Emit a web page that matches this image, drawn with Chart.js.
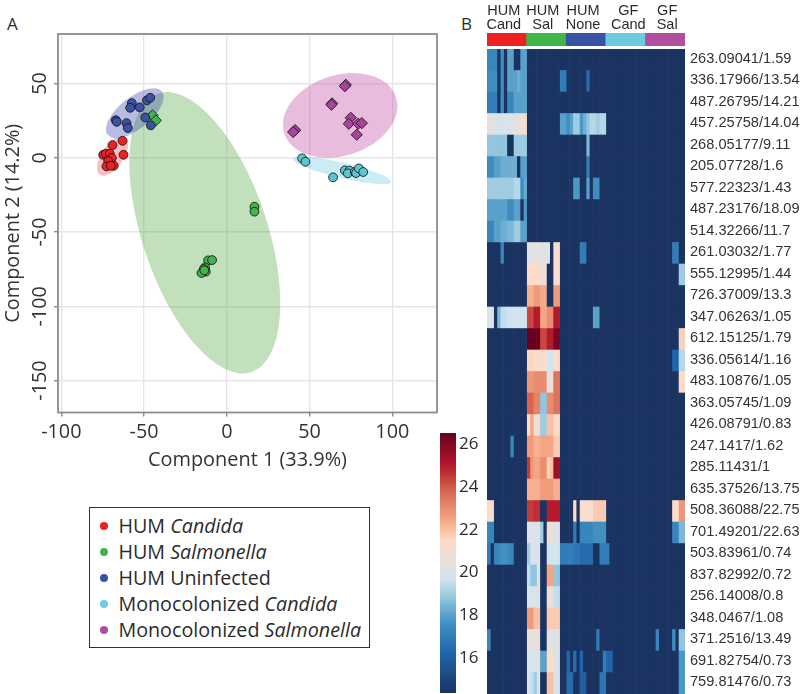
<!DOCTYPE html>
<html>
<head>
<meta charset="utf-8">
<title>PCA and heatmap</title>
<script src="https://cdn.jsdelivr.net/npm/chart.js@4/dist/chart.umd.js"></script>
<style>
  html, body { margin: 0; padding: 0; background: #fff; }
  body { position: relative; width: 800px; height: 694px; overflow: hidden; font-family: "Open Sans", sans-serif; color: #2b2b2b; }
  canvas { position: absolute; display: block; }
  .panel { position: absolute; font-size: 17px; line-height: 20px; }
  #legend { position: absolute; left: 89px; top: 507px; width: 279px; height: 134px; border: 1.5px solid #333; padding-top: 5px; box-sizing: content-box; }
  #legend div { position: relative; height: 26px; line-height: 26px; padding-left: 28.5px; font-size: 19.7px; white-space: nowrap; margin-top: 0; }
  #legend span.dot { position: absolute; left: 9.5px; top: 9px; width: 8px; height: 8px; border-radius: 50%; }
</style>
</head>
<body>
<div class="panel" style="left:7px;top:14px">A</div>
<div class="panel" style="left:461px;top:14px">B</div>
<canvas id="pcaChart" width="440" height="472" style="left:0;top:0"></canvas>
<canvas id="headerChart" width="198" height="46" style="left:487px;top:0"></canvas>
<canvas id="heatChart" width="313" height="645" style="left:487px;top:49px"></canvas>
<canvas id="scaleChart" width="47" height="260" style="left:440px;top:433px"></canvas>
<div id="legend"></div>
<script>
const pca_x_ticks = [-100, -50, 0, 50, 100]
const pca_y_ticks = [-150, -100, -50, 0, 50]

const hum_candida_x = [-69.1, -63.0, -62.4, -74.7, -73.1, -70.7, -69.5, -71.7, -72.7, -68.3, -70.1]
const hum_candida_y = [8.5, 11.4, 2.0, 2.0, 2.7, 2.7, -0.2, -2.2, -5.8, -5.4, -5.4]

const hum_uninfected_x = [-67.1, -66.5, -60.6, -59.8, -57.4, -58.4, -52.6, -48.3, -46.3, -49.3, -45.9]
const hum_uninfected_y = [25.3, 24.2, 23.3, 20.0, 36.8, 33.6, 33.9, 38.6, 40.4, 27.1, 21.8]

const hum_salmonella_x = [16.7, 16.7, -11.3, -8.9, -13.1, -13.9, -12.7, -15.3, -13.6]
const hum_salmonella_y = [-33, -36.3, -69.1, -68.9, -73.8, -74.9, -76.7, -77.6, -75.8]

const hum_salmonella_diamond_x = [-44.9, -42.9]
const hum_salmonella_diamond_y = [28.5, 25.1]

const mono_candida_x = [45.5, 47.5, 64.2, 71.3, 74.1, 73.1, 77.3, 78.1, 79.8, 82.4]
const mono_candida_y = [-0.4, -2.7, -13.2, -8.5, -8.7, -10.5, -9.6, -10.3, -7.2, -9.6]

const mono_salmonella_x = [71.9, 71.3, 63.6, 63.2, 41.3, 40.1, 74.9, 73.7, 79.4, 81.6, 78.5]
const mono_salmonella_y = [49.1, 48.2, 36.6, 35.7, 18.6, 17.3, 26.9, 22.9, 22.9, 23.3, 15.5]

// confidence ellipses: red, green, blue, cyan, purple
const ellipse_center_x = [-69, -13.3, -55.6, 69.7, 68.5]
const ellipse_center_y = [1.1, -50.5, 30, -8.5, 28.5]
const ellipse_half_x = [9.4, 45.6, 17.5, 29.7, 34.6]
const ellipse_half_y = [13.2, 94.7, 16.8, 9.3, 28.5]
const ellipse_tilt = [-0.6, 0.5, -0.65, 0.82, -0.22]
const ellipse_colors = ["rgba(238,32,36,0.3)", "rgba(70,160,50,0.33)", "rgba(70,80,180,0.38)", "rgba(109,203,224,0.36)", "rgba(190,70,160,0.36)"]

const group_colors = ["#ee2024", "#3fb54a", "#3953a4", "#6dcbe0", "#b04fa0"]
const point_colors = ["#ee2024", "#3fb54a", "#3953a4", "#5cc6d0", "#a8449a"]

const legend_names = ["HUM ", "HUM ", "HUM Uninfected", "Monocolonized ", "Monocolonized "]
const legend_species = ["Candida", "Salmonella", "", "Candida", "Salmonella"]

const header_labels = [["HUM", "Cand"], ["HUM", "Sal"], ["HUM", "None"], ["GF", "Cand"], ["GF", "Sal"]]
const header_label_columns = [5.1, 16.9, 29.1, 42.8, 54.6]

const row_labels = [
  "263.09041/1.59", "336.17966/13.54", "487.26795/14.21", "457.25758/14.04", "268.05177/9.11",
  "205.07728/1.6", "577.22323/1.43", "487.23176/18.09", "514.32266/11.7", "261.03032/1.77",
  "555.12995/1.44", "726.37009/13.3", "347.06263/1.05", "612.15125/1.79", "336.05614/1.16",
  "483.10876/1.05", "363.05745/1.09", "426.08791/0.83", "247.1417/1.62", "285.11431/1",
  "635.37526/13.75", "508.36088/22.75", "701.49201/22.63", "503.83961/0.74", "837.82992/0.72",
  "256.14008/0.8", "348.0467/1.08", "371.2516/13.49", "691.82754/0.73", "759.81476/0.73"
]

// log intensity per row, 12 samples per group, 0 = not detected
const heat_values = [
  [17.3,17.3,17.3,0,17.5,0,18,18,0,0,18,18, 0,0,0,0,0,0,0,0,0,0,0,0, 0,0,0,0,0,0,0,0,0,0,0,0, 0,0,0,0,0,0,0,0,0,0,0,0, 0,0,0,0,0,0,0,0,0,0,0,0],
  [17.5,17.5,17.5,0,17.5,0,18,18,18,18.3,18,18, 0,0,0,0,0,0,0,0,0,0,17,17, 0,0,0,0,0,0,16.5,0,0,0,0,0, 0,0,0,0,0,0,0,0,0,0,0,0, 0,0,0,0,0,0,0,0,0,0,0,0],
  [17,17,17,0,17.5,0,17.3,17.3,18,18,18,18, 0,0,0,0,0,0,0,0,0,0,0,0, 0,0,0,0,0,0,0,0,0,0,0,0, 0,0,0,0,0,0,0,0,0,0,0,0, 0,0,0,0,0,0,0,0,0,0,0,0],
  [20.5,20.5,19.8,19.8,20,20,20,20,20.5,20.5,21,21, 0,0,0,0,0,0,0,0,0,0,18,18, 17.5,18,19,19,17.8,18.3,18.8,19.3,19.3,19,19.3,19.3, 0,0,0,0,0,0,0,0,0,0,0,0, 0,0,0,0,0,0,0,0,0,0,0,0],
  [18.8,18.8,18.8,18.8,18.8,18.8,0,0,19,19,19,19, 0,0,0,0,0,0,0,0,0,0,0,0, 0,0,0,0,0,0,18.5,0,0,0,0,0, 0,0,0,0,0,0,0,0,0,0,0,0, 0,0,0,0,0,0,0,0,0,0,0,0],
  [17.5,17.5,18,18,18.3,18.3,18.3,18.3,18.3,0,18,18, 0,0,0,0,0,0,0,0,0,0,0,0, 0,0,0,0,0,0,17,0,0,0,0,0, 0,0,0,0,0,0,0,0,0,0,0,0, 0,0,0,0,0,0,0,0,0,0,0,0],
  [19,19,19,19,19,19,19,19,19.3,19.3,17.5,18.2, 0,0,0,0,0,0,0,0,0,0,0,0, 0,0,17.8,17.8,0,0,18,0,17.5,17.5,0,0, 0,0,0,0,0,0,0,0,0,0,0,0, 0,0,0,0,0,0,0,0,0,0,0,0],
  [18,18,18,18,18,18,17.5,17.5,18,18,0,17.8, 0,0,0,0,0,0,0,0,0,0,0,0, 0,0,0,0,0,0,0,0,0,0,0,0, 0,0,0,0,0,0,0,0,0,0,0,0, 0,0,0,0,0,0,0,0,0,0,0,0],
  [17.3,17.3,18,18,18.3,18.3,18.5,18.5,19,19,18,18, 0,0,0,0,0,0,0,0,0,0,0,0, 0,0,0,0,0,0,0,0,0,0,0,0, 0,0,0,0,0,0,0,0,0,0,0,0, 0,0,0,0,0,0,0,0,0,0,0,0],
  [0,0,0,0,17.3,0,0,0,0,0,0,0, 20.2,20.2,20.4,20.4,20.2,20.2,20.2,0,21.3,21.3,0,0, 0,0,0,0,17,17,0,0,0,0,0,0, 0,0,0,0,0,0,0,0,0,0,0,0, 0,0,0,0,0,0,0,0,17,17,0,0],
  [0,0,0,0,0,0,0,0,0,0,0,0, 21.5,21.5,21.5,21.5,20.8,20.8,0,0,21.3,21.3,0,0, 0,0,0,0,0,0,0,0,0,0,0,0, 0,0,0,0,0,0,0,0,0,0,0,0, 0,0,0,0,0,0,0,0,0,0,19,19],
  [0,0,0,0,0,0,0,0,0,0,0,0, 22.3,22.3,22.7,22.7,22.4,22.4,0,0,22.7,22.7,0,0, 0,0,0,0,0,0,0,0,0,0,0,0, 0,0,0,0,0,0,0,0,0,0,0,0, 0,0,0,0,0,0,0,0,0,0,0,0],
  [20,20,0,18.5,19.5,19.5,19.7,19.7,19.7,19.7,19.7,19.7, 24.3,24.3,25,25,22.5,22.5,23,23,25,25,0,0, 0,0,0,0,0,0,0,0,18,18,0,0, 0,0,0,0,0,0,0,0,0,0,0,0, 0,0,0,0,0,0,0,0,0,0,0,0],
  [0,0,0,0,0,0,0,0,0,0,0,0, 26.5,26.5,26.5,26.5,24.3,24.3,25,25,26.2,26.2,0,0, 0,0,0,0,0,0,0,0,0,0,0,0, 0,0,0,0,0,0,0,0,0,0,0,0, 0,0,0,0,0,0,0,0,0,0,21.7,21.7],
  [0,0,0,0,0,0,0,0,0,0,0,0, 21.6,21.6,21.3,21.3,21.3,21.3,19.7,19.7,21.5,21.5,0,0, 0,0,0,0,0,0,0,0,0,0,0,0, 0,0,0,0,0,0,0,0,0,0,0,0, 0,0,0,0,0,0,0,0,16.3,16.3,19.3,19.3],
  [0,0,0,0,0,0,0,0,0,0,0,0, 22.8,22.8,23,23,23,23,20.5,20.5,23.5,23.5,0,0, 0,0,0,0,0,0,0,0,0,0,0,0, 0,0,0,0,0,0,0,0,0,0,0,0, 0,0,0,0,0,0,0,0,0,0,21.5,21.5],
  [0,0,0,0,0,0,0,0,0,0,0,0, 23.8,23.8,23.2,23.2,18.8,18.8,23,23,23.5,23.5,0,0, 0,0,0,0,0,0,0,0,0,0,0,0, 0,0,0,0,0,0,0,0,0,0,0,0, 0,0,0,0,0,0,0,0,0,0,0,0],
  [0,0,0,0,0,0,0,0,0,0,0,0, 21.5,22.5,20.8,20.8,19,19,22,22,21.5,21.5,0,0, 0,0,0,0,0,0,0,0,0,0,0,0, 0,0,0,0,0,0,0,0,0,0,0,0, 0,0,0,0,0,0,0,0,0,0,0,0],
  [0,0,0,0,0,0,0,17.3,0,0,0,0, 22.7,22.7,22.3,22.3,22.5,22.5,22.5,22.5,21.8,21.8,0,0, 0,0,0,0,0,0,0,0,0,0,0,0, 0,0,0,0,0,0,0,0,0,0,0,0, 0,0,0,0,0,0,0,0,0,0,0,0],
  [0,0,0,0,0,0,0,0,0,0,0,0, 24.5,22.8,22.5,22.5,23,23,21.7,22,25.5,25.5,0,0, 0,0,0,0,0,0,0,0,0,0,0,0, 0,0,0,0,0,0,0,0,0,0,0,0, 0,0,0,0,0,0,0,0,0,0,0,0],
  [0,0,0,0,0,0,0,0,0,0,0,0, 22.3,22.3,22.3,22.3,22.7,22.7,22.7,22.7,22.3,22.3,0,0, 0,0,0,0,0,0,0,0,0,0,0,0, 0,0,0,0,0,0,0,0,0,0,0,0, 0,0,0,0,0,0,0,0,0,0,0,0],
  [21.5,21.5,0,0,0,0,0,0,0,0,0,0, 24.5,24.5,24.7,24.7,0,0,25,25,25,25,0,0, 0,0,21.5,0,21.3,21.3,21.3,21.3,21.8,21.8,21.8,21.8, 0,0,0,0,0,0,0,0,0,0,0,0, 0,0,0,0,0,0,0,0,21.5,21.5,22.8,22.8],
  [17.3,17.3,0,0,0,0,0,0,0,0,0,0, 20,20,20,20,19,0,20.7,20.7,20,20,0,0, 0,0,17,0,17.3,17.3,17.3,17.3,17.6,17.6,17.6,17.6, 0,0,0,0,0,0,0,0,0,0,0,0, 0,0,0,0,0,0,0,0,17.3,17.3,18.5,18.5],
  [17,0,17.2,17.4,17.6,17.6,17.4,17.2,0,0,0,0, 19,20,20,20,0,0,19.8,19.8,19.8,19.8,17,17, 17,17,16.8,16.8,16.5,16.5,16.5,16.5,0,0,17,17, 17,0,0,0,0,0,0,0,0,0,0,0, 0,0,0,0,0,0,0,0,0,0,0,0],
  [0,0,0,0,0,0,0,0,0,0,0,0, 19.5,18.8,18.8,20,0,0,22.5,22.5,18.8,18.8,0,0, 0,0,0,0,0,0,0,0,0,0,0,0, 0,0,0,0,0,0,0,0,0,0,0,0, 0,0,0,0,0,0,0,0,0,0,0,0],
  [0,0,0,0,0,0,0,0,0,0,0,0, 20,20,20,20,0,0,20.8,20.8,19.5,19.5,0,0, 0,0,0,0,0,0,0,0,0,0,0,0, 0,0,0,0,0,0,0,0,0,0,0,0, 0,0,0,0,0,0,0,0,0,0,0,0],
  [0,0,0,0,0,0,0,0,0,0,0,0, 22.7,22.7,22,22,0,0,21.8,21.8,21.8,21.8,0,0, 0,0,0,0,0,0,0,0,0,0,0,0, 0,0,0,0,0,0,0,0,0,0,0,0, 0,0,0,0,0,0,0,0,0,0,0,0],
  [17.3,0,0,0,0,0,0,0,0,0,0,0, 20.5,20.5,20.5,20.5,0,0,20.3,20.3,20.3,20.3,0,0, 0,0,0,0,0,0,0,0,0,17,0,0, 0,0,0,0,0,0,0,0,0,0,0,0, 0,0,0,17.3,0,0,0,0,17.5,0,18.8,18.8],
  [0,0,0,0,0,0,0,0,0,0,0,0, 20,20,20,20.3,18,18,21.5,21.5,20,20,0,0, 16.3,0,16.5,0,16.3,0,0,0,0,0,0,17, 16.3,16.3,0,0,0,0,0,0,0,0,0,0, 0,0,0,0,0,0,0,0,0,0,17.8,17.8],
  [0,0,0,0,0,0,0,0,0,0,0,0, 20,19.5,19,20,0,0,22,22,20,20,0,0, 16.5,16.5,0,0,16,16,0,0,0,0,16.8,16.8, 0,0,0,0,0,0,0,0,0,0,0,0, 0,0,0,0,0,0,0,0,0,0,17.8,17.8]
]

const scale_ticks = [16, 18, 20, 22, 24, 26]
const scale_min = 14.36
const scale_max = 26.53
const scale_stop_values = [14.36, 16.3, 17.7, 18.8, 19.7, 20.5, 21.5, 22.5, 23.9, 25.03, 26.53]
const scale_stop_colors = ["#1b3360", "#2166ac", "#4393c3", "#92c5de", "#d1e5f0", "#e8e0dc", "#fddbc7", "#f4a582", "#d6604d", "#b2182b", "#67001f"]
const not_detected_color = "#1b3360"

Chart.defaults.animation = false
Chart.defaults.responsive = false
Chart.defaults.plugins.legend.display = false
Chart.defaults.plugins.tooltip.enabled = false

function to_points(xs, ys)
{
  return xs.map((x, i) => ({ x: x, y: ys[i] }))
}

function scatter_set(xs, ys, color, style, radius)
{
  return {
    data: to_points(xs, ys),
    backgroundColor: color,
    borderColor: "#1a1a1a",
    borderWidth: 0.9,
    pointStyle: style,
    pointRadius: radius
  }
}

// no extra room for tick label overhang, the boxes are fixed to the reference
function clear_padding(axis)
{
  axis.paddingTop = 0
  axis.paddingBottom = 0
  axis.paddingLeft = 0
  axis.paddingRight = 0
}

const ellipse_plugin =
{
  id: "ellipses",
  beforeDatasetsDraw(chart)
  {
    const ctx = chart.ctx
    const sx = chart.scales.x
    const sy = chart.scales.y
    ctx.save()
    ellipse_center_x.forEach((cx, i) =>
    {
      const cy = ellipse_center_y[i]
      const hw = Math.abs(sx.getPixelForValue(cx + ellipse_half_x[i]) - sx.getPixelForValue(cx))
      const hh = Math.abs(sy.getPixelForValue(cy + ellipse_half_y[i]) - sy.getPixelForValue(cy))
      const cross = ellipse_tilt[i] * hw * hh
      const angle = 0.5 * Math.atan2(2 * cross, hw * hw - hh * hh)
      const mean = (hw * hw + hh * hh) / 2
      const diff = Math.hypot((hw * hw - hh * hh) / 2, cross)
      ctx.beginPath()
      ctx.ellipse(sx.getPixelForValue(cx), sy.getPixelForValue(cy), Math.sqrt(mean + diff), Math.sqrt(mean - diff), angle, 0, Math.PI * 2)
      ctx.fillStyle = ellipse_colors[i]
      ctx.fill()
    })
    ctx.restore()
  },
  afterDatasetsDraw(chart)
  {
    const a = chart.chartArea
    const ctx = chart.ctx
    ctx.save()
    ctx.strokeStyle = "#8c8c8c"
    ctx.lineWidth = 1.8
    ctx.strokeRect(a.left, a.top, a.right - a.left, a.bottom - a.top)
    ctx.restore()
  }
}

new Chart(document.getElementById("pcaChart"),
{
  type: "scatter",
  data:
  {
    datasets:
    [
      scatter_set(hum_candida_x, hum_candida_y, point_colors[0], "circle", 4.4),
      scatter_set(hum_uninfected_x, hum_uninfected_y, point_colors[2], "circle", 4.4),
      scatter_set(hum_salmonella_diamond_x, hum_salmonella_diamond_y, point_colors[1], "rectRot", 5.6),
      scatter_set(hum_salmonella_x, hum_salmonella_y, point_colors[1], "circle", 4.4),
      scatter_set(mono_candida_x, mono_candida_y, point_colors[3], "circle", 4.4),
      scatter_set(mono_salmonella_x, mono_salmonella_y, point_colors[4], "rectRot", 5.6)
    ]
  },
  options:
  {
    layout: { autoPadding: false, padding: { top: 34, right: 3, left: 0, bottom: 0 } },
    scales:
    {
      x:
      {
        type: "linear",
        min: -102,
        max: 127,
        afterBuildTicks: (axis) => { axis.ticks = pca_x_ticks.map(v => ({ value: v })) },
        afterFit: (axis) => { axis.height = 59.5; clear_padding(axis) },
        grid: { color: "#e6e6e6", lineWidth: 1.4, tickColor: "#8c8c8c", tickLength: 4 },
        border: { display: false },
        ticks: { color: "#333", padding: 4, maxRotation: 0, autoSkip: false, font: { family: "Open Sans", size: 19.8 } },
        title: { display: true, text: "Component 1 (33.9%)", color: "#333", padding: 0, font: { family: "Open Sans", size: 19.9, lineHeight: 1.2 } }
      },
      y:
      {
        type: "linear",
        min: -171.5,
        max: 83.3,
        afterBuildTicks: (axis) => { axis.ticks = pca_y_ticks.map(v => ({ value: v })) },
        afterFit: (axis) => { axis.width = 58; clear_padding(axis) },
        grid: { color: "#e6e6e6", lineWidth: 1.4, tickColor: "#8c8c8c", tickLength: 4 },
        border: { display: false },
        ticks: { color: "#333", padding: -7, minRotation: 90, maxRotation: 90, crossAlign: "center", autoSkip: false, font: { family: "Open Sans", size: 19.8 } },
        title: { display: true, text: "Component 2 (14.2%)", color: "#333", padding: 1, font: { family: "Open Sans", size: 19.9, lineHeight: 1.2 } }
      }
    }
  },
  plugins: [ellipse_plugin]
})

new Chart(document.getElementById("headerChart"),
{
  type: "bar",
  data:
  {
    labels: header_labels.map(l => l.join(" ")),
    datasets: [{ data: header_labels.map(() => 1), backgroundColor: group_colors, categoryPercentage: 1, barPercentage: 1 }]
  },
  options:
  {
    layout: { autoPadding: false, padding: 0 },
    scales:
    {
      x: { display: false },
      columns:
      {
        type: "linear",
        position: "top",
        offset: false,
        min: 0,
        max: heat_values[0].length,
        afterBuildTicks: (axis) => { axis.ticks = header_label_columns.map(v => ({ value: v })) },
        afterFit: (axis) => { axis.height = 33; clear_padding(axis) },
        grid: { display: false, drawTicks: false },
        border: { display: false },
        ticks:
        {
          color: "#2b2b2b",
          padding: 1,
          maxRotation: 0,
          autoSkip: false,
          font: { family: "Liberation Sans", size: 14.5, lineHeight: 0.97 },
          callback: (value, index) => header_labels[index]
        }
      },
      y: { display: false, min: 0, max: 1 }
    }
  }
})

function hex_to_rgb(hex)
{
  return [1, 3, 5].map(i => parseInt(hex.slice(i, i + 2), 16))
}

function value_color(v)
{
  if (v === 0) return not_detected_color
  for (let i = 1; i < scale_stop_values.length; i++)
  {
    if (v <= scale_stop_values[i])
    {
      const t = (v - scale_stop_values[i - 1]) / (scale_stop_values[i] - scale_stop_values[i - 1])
      const a = hex_to_rgb(scale_stop_colors[i - 1])
      const b = hex_to_rgb(scale_stop_colors[i])
      return "rgb(" + a.map((c, k) => Math.round(c + (b[k] - c) * t)).join(",") + ")"
    }
  }
  return scale_stop_colors[scale_stop_colors.length - 1]
}

const column_count = heat_values[0].length
const heat_sets = []
for (let col = 0; col < column_count; col++)
{
  heat_sets.push({
    data: heat_values.map(() => [col, col + 1]),
    backgroundColor: heat_values.map(row => value_color(row[col])),
    categoryPercentage: 1,
    barPercentage: 1,
    grouped: false
  })
}

new Chart(document.getElementById("heatChart"),
{
  type: "bar",
  data: { labels: row_labels, datasets: heat_sets },
  options:
  {
    indexAxis: "y",
    layout: { autoPadding: false, padding: 0 },
    scales:
    {
      x: { display: false, min: 0, max: column_count },
      y:
      {
        position: "right",
        afterFit: (axis) => { axis.width = 115; clear_padding(axis) },
        grid: { display: false, drawTicks: false },
        border: { display: false },
        ticks: { color: "#333", padding: 5, labelOffset: -1, autoSkip: false, font: { family: "Liberation Sans", size: 14.6 } }
      }
    }
  }
})

new Chart(document.getElementById("scaleChart"),
{
  type: "bar",
  data:
  {
    labels: ["value"],
    datasets:
    [{
      data: [[scale_min, scale_max]],
      categoryPercentage: 1,
      barPercentage: 1,
      backgroundColor: (c) =>
      {
        const y = c.chart.scales.y
        if (!c.chart.chartArea || !y) return not_detected_color
        const y0 = y.getPixelForValue(scale_min)
        const y1 = y.getPixelForValue(scale_max)
        if (!isFinite(y0) || !isFinite(y1)) return not_detected_color
        const g = c.chart.ctx.createLinearGradient(0, y0, 0, y1)
        scale_stop_values.forEach((v, i) => g.addColorStop((v - scale_min) / (scale_max - scale_min), scale_stop_colors[i]))
        return g
      }
    }]
  },
  options:
  {
    layout: { autoPadding: false, padding: 0 },
    scales:
    {
      x: { display: false },
      y:
      {
        position: "right",
        min: scale_min,
        max: scale_max,
        afterBuildTicks: (axis) => { axis.ticks = scale_ticks.map(v => ({ value: v })) },
        afterFit: (axis) => { axis.width = 31; clear_padding(axis) },
        grid: { display: false, drawTicks: false },
        border: { display: false },
        ticks: { color: "#2b2b2b", padding: 3, autoSkip: false, font: { family: "Open Sans", size: 17 } }
      }
    }
  }
})

const legend_div = document.getElementById("legend")
legend_names.forEach((name, i) =>
{
  const row = document.createElement("div")
  const dot = document.createElement("span")
  dot.className = "dot"
  dot.style.background = group_colors[i]
  row.appendChild(dot)
  row.appendChild(document.createTextNode(name))
  if (legend_species[i])
  {
    const em = document.createElement("i")
    em.textContent = legend_species[i]
    row.appendChild(em)
  }
  legend_div.appendChild(row)
})
</script>
</body>
</html>
